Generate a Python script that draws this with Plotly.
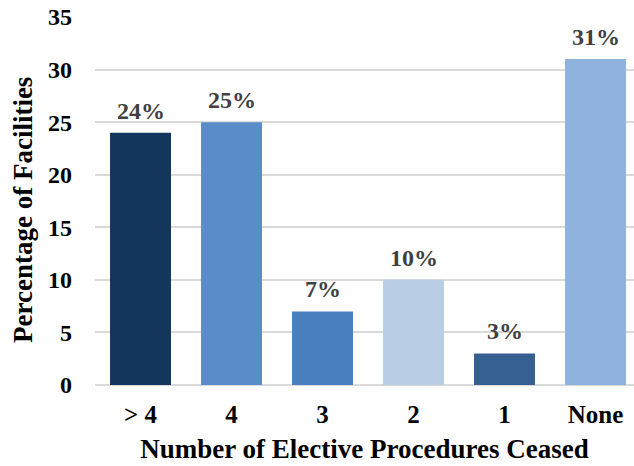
import plotly.graph_objects as go

categories = ["> 4", "4", "3", "2", "1", "None"]
values = [24, 25, 7, 10, 3, 31]
labels = ["24%", "25%", "7%", "10%", "3%", "31%"]
colors = ["#14365C", "#5A8DC8", "#4A80C0", "#B9CDE5", "#376092", "#8FB3DD"]
y_ticks = [0, 5, 10, 15, 20, 25, 30, 35]

FONT = "Liberation Serif"

fig = go.Figure(go.Bar(
    x=list(range(len(categories))), y=values,
    marker=dict(color=colors, line=dict(width=0)),
))

for i, (v, t) in enumerate(zip(values, labels)):
    fig.add_annotation(
        x=i, y=v, text=t, showarrow=False, yanchor="bottom", yshift=7,
        font=dict(family=FONT, size=24, color="#404040", weight="bold"),
    )

# y-axis title
fig.add_annotation(
    text="Percentage of Facilities", xref="paper", yref="paper",
    x=-0.1336, y=0.4755, xanchor="center", yanchor="middle",
    textangle=-90, showarrow=False,
    font=dict(family=FONT, size=27, weight="bold", color="black"),
)

fig.update_layout(
    width=634, height=466,
    margin=dict(l=95, r=0, t=17, b=81),
    paper_bgcolor="white", plot_bgcolor="white",
    bargap=0.33, showlegend=False,
    font=dict(family=FONT, color="black"),
)
fig.update_xaxes(
    range=[-0.5, 5.423],
    tickvals=list(range(len(categories))), ticktext=categories,
    tickfont=dict(family=FONT, size=25, weight="bold", color="black"),
    ticklabelstandoff=12,
    title=dict(text="Number of Elective Procedures Ceased",
               font=dict(family=FONT, size=27, weight="bold", color="black"),
               standoff=12),
    ticks="", showline=False, showgrid=False, zeroline=False,
)
fig.update_yaxes(
    range=[0, 35], tickvals=y_ticks,
    tickfont=dict(family=FONT, size=24, weight="bold", color="black"),
    ticklabelstandoff=22,
    showgrid=True, gridcolor="#D9D9D9", gridwidth=1.5,
    zeroline=True, zerolinecolor="#D9D9D9", zerolinewidth=1.5,
    ticks="", showline=False,
)

fig.write_html("out.html")
